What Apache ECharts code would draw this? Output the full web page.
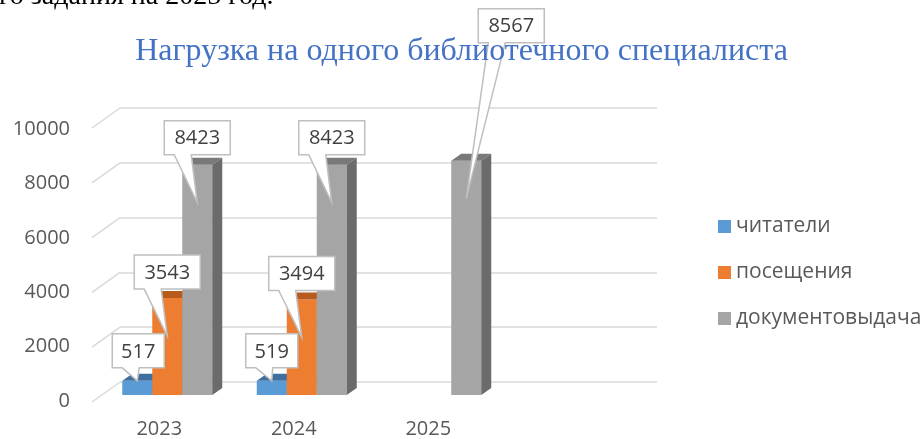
<!DOCTYPE html>
<html>
<head>
<meta charset="utf-8">
<script src="https://cdn.jsdelivr.net/npm/echarts@6/dist/echarts.min.js"></script>
<style>
  html, body { margin: 0; padding: 0; background: #fff; }
  #chart { width: 923px; height: 439px; }
</style>
</head>
<body>
<div id="chart"></div>
<script>
// data
var categories = ['2023', '2024', '2025', ''];
var yTicks = [0, 2000, 4000, 6000, 8000, 10000];
var seriesNames = ['читатели', 'посещения', 'документовыдача'];
var readers = [517, 519, null];
var visits = [3543, 3494, null];
var loans = [8423, 8423, 8567];

// look
var faceColors = ['#5B9BD5', '#ED7D31', '#A5A5A5'];
var topColors = ['#3E6F9E', '#B65A1E', '#797979'];
var sideColors = ['#41719C', '#AE5A21', '#6B6B6B'];
// callout box centre relative to the pointer tip, per series / category
var calloutShift = [
  [[1, -30], [0, -30], null],
  [[0, -64], [0, -64], null],
  [[0, -65], [0, -65], [45, -173]]
];
var BAR_W = 30, DX = 10, DY = 7;
var FONT = 'Open Sans';

var chart = echarts.init(document.getElementById('chart'));

function toData(arr) {
  var out = [];
  arr.forEach(function (v, i) { if (v != null) out.push([i, v]); });
  return out;
}

function barGeom(api, si) {
  var base = api.coord([api.value(0), 0]);
  var top = api.coord([api.value(0), api.value(1)]);
  var x0 = base[0] - 1.5 * BAR_W + si * BAR_W;
  return { x0: x0, yb: base[1], yt: top[1] };
}

function barSeries(si, values) {
  return {
    type: 'custom',
    name: seriesNames[si],
    xAxisIndex: 2, yAxisIndex: 2,
    z: 3,
    itemStyle: { color: faceColors[si] },
    data: toData(values),
    renderItem: function (params, api) {
      var g = barGeom(api, si);
      var x0 = g.x0, x1 = g.x0 + BAR_W;
      return {
        type: 'group',
        children: [
          { type: 'rect', shape: { x: x0, y: g.yt, width: BAR_W, height: g.yb - g.yt },
            style: { fill: faceColors[si] } },
          { type: 'polygon', shape: { points: [[x0, g.yt], [x1, g.yt], [x1 + DX, g.yt - DY], [x0 + DX, g.yt - DY]] },
            style: { fill: topColors[si] } },
          { type: 'polygon', shape: { points: [[x1, g.yt], [x1 + DX, g.yt - DY], [x1 + DX, g.yb - DY], [x1, g.yb]] },
            style: { fill: sideColors[si] } }
        ]
      };
    }
  };
}

function calloutSeries(si, values) {
  return {
    type: 'custom',
    name: 'label' + si,
    xAxisIndex: 2, yAxisIndex: 2,
    z: 6,
    silent: true,
    data: toData(values),
    renderItem: function (params, api) {
      var g = barGeom(api, si);
      var cat = api.value(0);
      var val = api.value(1);
      var txt = String(val);
      var tipX = g.x0 + BAR_W / 2;
      var tipY = g.yt + ((g.yb - g.yt) > 40 ? 38 : 0);
      var sh = calloutShift[si][cat];
      var cx = tipX + sh[0], cy = tipY + sh[1];
      var w = 10 + 14 * txt.length, h = 34;
      var L = cx - w / 2, R = cx + w / 2, T = cy - h / 2, B = cy + h / 2;
      return {
        type: 'group',
        children: [
          { type: 'polygon',
            shape: { points: [[L, T], [R, T], [R, B], [L + 27, B], [tipX, tipY], [L + 10, B], [L, B]] },
            style: { fill: '#fff', stroke: '#BFBFBF', lineWidth: 1.5 } },
          { type: 'text',
            style: { x: cx, y: cy + 1, text: txt, fill: '#404040', fontSize: 20, fontFamily: FONT,
                     align: 'center', verticalAlign: 'middle' } }
        ]
      };
    }
  };
}

var option = {
  animation: false,
  backgroundColor: '#fff',
  title: [
    { text: 'го задания на 2025 год.', left: -1, top: -17, padding: 0,
      textStyle: { fontFamily: 'Liberation Serif', fontSize: 28, fontWeight: 'normal', color: '#000' } },
    { text: 'Нагрузка на одного библиотечного специалиста', left: 'center', top: 36, padding: 0, z: 8,
      textStyle: { fontFamily: 'Liberation Serif', fontSize: 32, fontWeight: 'normal', color: '#4472C4' } }
  ],
  legend: {
    orient: 'vertical', left: 718, top: 216, padding: 0,
    icon: 'rect', itemWidth: 13, itemHeight: 13, itemGap: 25,
    data: seriesNames,
    textStyle: { color: '#595959', fontSize: 21, fontFamily: FONT, lineHeight: 20 }
  },
  grid: [
    { left: 120, right: 266, top: 108, bottom: 57 },   // back wall
    { left: 92, right: 293, top: 129, bottom: 37 },    // front edge, carries labels
    { left: 100, right: 285, top: 121.5, bottom: 44 }  // plane of the bars
  ],
  xAxis: [
    { type: 'category', gridIndex: 0, data: categories, show: false },
    { type: 'category', gridIndex: 1, data: categories,
      axisLine: { show: false }, axisTick: { show: false },
      axisLabel: { color: '#595959', fontSize: 20, fontFamily: FONT, margin: 18 } },
    { type: 'category', gridIndex: 2, data: categories, show: false }
  ],
  yAxis: [
    { type: 'value', gridIndex: 0, min: 0, max: 10000, interval: 2000,
      axisLine: { show: false }, axisTick: { show: false }, axisLabel: { show: false },
      splitLine: { lineStyle: { color: '#D9D9D9', width: 1.5 } } },
    { type: 'value', gridIndex: 1, min: 0, max: 10000, interval: 2000,
      axisLine: { show: false }, axisTick: { show: false }, splitLine: { show: false },
      axisLabel: { color: '#595959', fontSize: 20, fontFamily: FONT, margin: 22,
                   formatter: function (v) { return String(v); } } },
    { type: 'value', gridIndex: 2, min: 0, max: 10000, interval: 2000, show: false }
  ],
  series: [
    {
      type: 'custom', name: 'floor', xAxisIndex: 0, yAxisIndex: 0, silent: true, z: 1,
      data: yTicks.map(function (v) { return [0, v]; }),
      renderItem: function (params, api) {
        var y = api.coord([0, api.value(1)])[1];
        var x = params.coordSys.x;
        return { type: 'line', shape: { x1: x, y1: y, x2: x - 28, y2: y + 20 },
                 style: { stroke: '#D9D9D9', lineWidth: 1.5 } };
      }
    },
    barSeries(0, readers),
    barSeries(1, visits),
    barSeries(2, loans),
    calloutSeries(0, readers),
    calloutSeries(1, visits),
    calloutSeries(2, loans)
  ]
};

chart.setOption(option);
</script>
</body>
</html>
